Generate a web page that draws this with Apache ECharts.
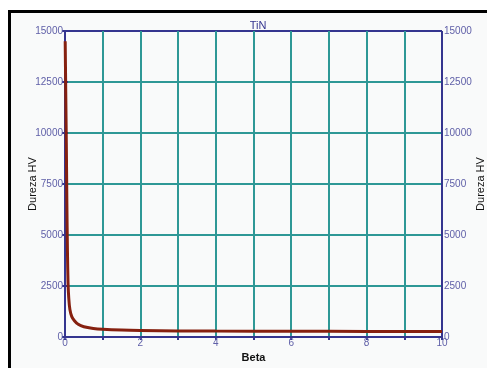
<!DOCTYPE html>
<html>
<head>
<meta charset="utf-8">
<script src="https://cdn.jsdelivr.net/npm/echarts@6/dist/echarts.min.js"></script>
<style>
  html, body { margin: 0; padding: 0; background: #fff; }
  #chart { width: 487px; height: 368px; }
</style>
</head>
<body>
<div id="chart"></div>
<script>
// Dureza HV vs Beta (TiN)
var beta = [0.005, 0.02, 0.035, 0.05, 0.065, 0.08, 0.1, 0.13, 0.18, 0.25, 0.35, 0.5, 0.75, 1, 1.5, 2, 3, 4, 6, 8, 10];
var dureza = [14500, 12000, 9500, 6500, 4200, 2700, 1900, 1350, 1000, 800, 620, 500, 420, 380, 340, 320, 300, 290, 280, 275, 270];
var yTicks = [0, 2500, 5000, 7500, 10000, 12500, 15000];

var navy = '#35358f';
var teal = '#2e9896';
var labelColor = '#6060a8';
var font = 'Liberation Sans, Arial, sans-serif';

var points = [];
for (var i = 0; i < beta.length; i++) {
    points.push([beta[i], dureza[i]]);
}

// last grid line sits on the frame, so paint it navy like the axes
var xGridColors = [];
for (var k = 0; k <= 10; k++) xGridColors.push(k === 10 ? navy : teal);
var yGridColors = [];
for (var j = 0; j < yTicks.length; j++) yGridColors.push(j === yTicks.length - 1 ? navy : teal);

var chart = echarts.init(document.getElementById('chart'));
var yBase = {
    type: 'value',
    min: yTicks[0],
    max: yTicks[yTicks.length - 1],
    interval: 2500,
    name: 'Dureza HV',
    nameLocation: 'middle',
    nameRotate: 90,
    nameMoveOverlap: false,
    nameTextStyle: { color: '#111', fontSize: 11, fontFamily: font },
    axisLine: { show: true, lineStyle: { color: navy, width: 2 } },
    axisTick: { show: true, length: 3, lineStyle: { color: navy, width: 2 } },
    axisLabel: {
        color: labelColor, fontSize: 10, fontFamily: font, margin: 2,
        formatter: function (v) { return String(v); }
    }
};

chart.setOption({
    backgroundColor: '#fff',
    animation: false,
    graphic: [
        {
            type: 'rect',
            shape: { x: 9.5, y: 11.5, width: 520, height: 400 },
            style: { fill: '#f9fafa', stroke: '#000', lineWidth: 3 },
            z: -10
        }
    ],
    title: {
        text: 'TiN',
        left: 253,
        top: 15,
        textAlign: 'center',
        textStyle: { color: navy, fontSize: 11, fontWeight: 'normal', fontFamily: font }
    },
    grid: { left: 65, right: 45, top: 31, bottom: 31, outerBoundsMode: 'none', containLabel: false },
    xAxis: [
        {
            type: 'value',
            min: 0,
            max: 10,
            interval: 1,
            name: 'Beta',
            nameLocation: 'middle',
            nameGap: 14,
            nameTextStyle: { color: '#111', fontSize: 11, fontWeight: 'bold', fontFamily: font },
            axisLine: { show: true, lineStyle: { color: navy, width: 2 } },
            axisTick: { show: true, length: 3, lineStyle: { color: navy, width: 2 } },
            axisLabel: {
                color: labelColor, fontSize: 10, fontFamily: font, margin: 1,
                formatter: function (v) { return v % 2 === 0 ? String(v) : ''; }
            },
            splitLine: { show: true, lineStyle: { color: xGridColors, width: 2 } }
        },
        {
            type: 'value',
            position: 'top',
            min: 0,
            max: 10,
            axisLine: { show: true, lineStyle: { color: navy, width: 2 } },
            axisTick: { show: false },
            axisLabel: { show: false },
            splitLine: { show: false }
        }
    ],
    yAxis: [
        Object.assign({}, yBase, {
            position: 'left',
            nameGap: 27,
            splitLine: { show: true, lineStyle: { color: yGridColors, width: 2 } }
        }),
        Object.assign({}, yBase, {
            position: 'right',
            nameGap: 33,
            splitLine: { show: false }
        })
    ],
    series: [
        {
            type: 'line',
            data: points,
            smooth: 0.3,
            showSymbol: false,
            lineStyle: { color: '#86200f', width: 3 },
            z: 5
        }
    ]
});
</script>
</body>
</html>
